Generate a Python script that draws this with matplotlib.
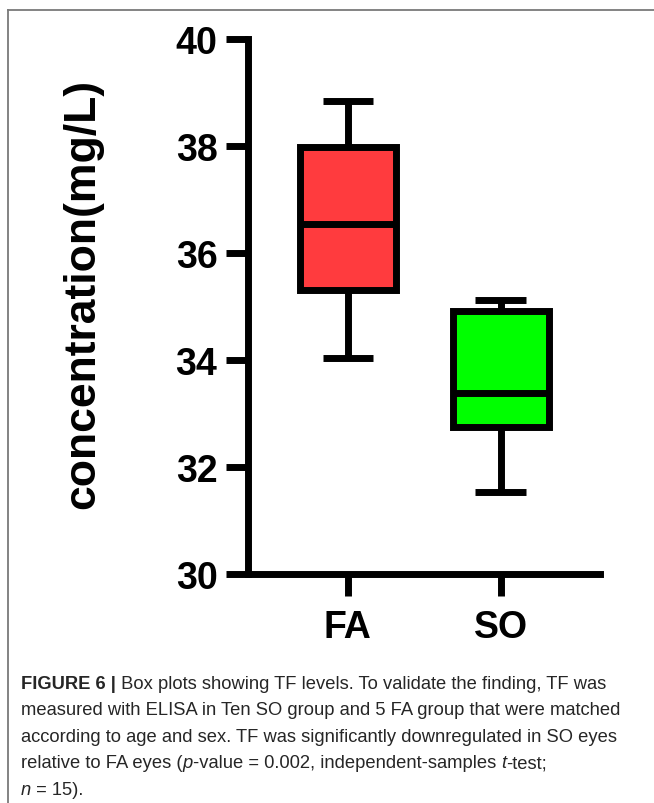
import matplotlib
matplotlib.use("Agg")
import matplotlib.pyplot as plt
from matplotlib.lines import Line2D

# ---- data ----
groups = ["FA", "SO"]
medians = [36.55, 33.38]
q1s = [35.30, 32.75]
q3s = [37.98, 34.92]
whis_lo = [34.03, 31.53]
whis_hi = [38.85, 35.13]
box_colors = ["#FF3B3E", "#00FF00"]
y_ticks = [30, 32, 34, 36, 38, 40]
y_label = "concentration(mg/L)"

caption_lines = [
    [("FIGURE 6 |", "bold", "normal"), (" Box plots showing TF levels. To validate the finding, TF was", "normal", "normal")],
    [("measured with ELISA in Ten SO group and 5 FA group that were matched", "normal", "normal")],
    [("according to age and sex. TF was significantly downregulated in SO eyes", "normal", "normal")],
    [("relative to FA eyes (", "normal", "normal"), ("p", "normal", "italic"),
     ("-value = 0.002, independent-samples ", "normal", "normal"), ("t", "normal", "italic"),
     ("-test;", "normal", "normal")],
    [("n", "normal", "italic"), (" = 15).", "normal", "normal")],
]

W, H = 654, 804
fig = plt.figure(figsize=(W / 100, H / 100), dpi=100)
plt.rcParams['font.family'] = ['Liberation Sans', 'DejaVu Sans']

ax = fig.add_axes([248 / W, 1 - 575 / H, (600 - 248) / W, (575 - 40) / H])

stats = []
for g, m, a, b, lo, hi in zip(groups, medians, q1s, q3s, whis_lo, whis_hi):
    stats.append(dict(label=g, med=m, q1=a, q3=b, whislo=lo, whishi=hi, fliers=[]))

lw = 5
bp = ax.bxp(stats, positions=[1, 2], widths=0.63, patch_artist=True,
            showfliers=False, capwidths=0.33,
            boxprops=dict(linewidth=lw, edgecolor="black"),
            medianprops=dict(linewidth=lw, color="black", solid_capstyle="butt"),
            whiskerprops=dict(linewidth=lw, color="black", solid_capstyle="butt"),
            capprops=dict(linewidth=lw, color="black", solid_capstyle="butt"))
for patch, c in zip(bp["boxes"], box_colors):
    patch.set_facecolor(c)
    patch.set_joinstyle("miter")

ax.set_ylim(30, 40)
ax.set_xlim(0.346, 2.65)
ax.set_yticks(y_ticks)
ax.set_yticklabels([str(t) for t in y_ticks])
ax.set_xticks([1, 2])
ax.set_xticklabels(groups)

for s in ["top", "right"]:
    ax.spines[s].set_visible(False)
for s in ["left", "bottom"]:
    ax.spines[s].set_linewidth(lw)
    ax.spines[s].set_capstyle("projecting")

ax.tick_params(axis="both", length=16, width=lw, color="black")
ax.tick_params(axis="y", pad=6)
ax.tick_params(axis="x", pad=9)
for lab in ax.get_yticklabels():
    lab.set_fontsize(27)
    lab.set_fontweight("bold")
for lab in ax.get_xticklabels():
    lab.set_fontsize(27)
    lab.set_fontweight("bold")

fig.text(83 / W, 1 - 294 / H, y_label, rotation=90, ha="center", va="center",
         fontsize=32, fontweight="bold")

# frame lines
fig.add_artist(Line2D([8 / W, 1.0], [1 - 10.5 / H, 1 - 10.5 / H], transform=fig.transFigure,
                      color="#7a7a7a", linewidth=1.3))
fig.add_artist(Line2D([8 / W, 8 / W], [0, 1 - 10.5 / H], transform=fig.transFigure,
                      color="#7a7a7a", linewidth=1.3))

# caption
fig.canvas.draw()
renderer = fig.canvas.get_renderer()
cap_size = 13.2
x0 = 21
baselines = [689, 715.5, 742, 768.5, 795]
for segs, yb in zip(caption_lines, baselines):
    x = x0
    for txt, weight, style in segs:
        t = fig.text(x / W, 1 - yb / H, txt, ha="left", va="baseline",
                     fontsize=cap_size, fontweight=weight, fontstyle=style, color="#262626")
        bb = t.get_window_extent(renderer=renderer)
        x += bb.width

fig.savefig("out.png", dpi=100)
